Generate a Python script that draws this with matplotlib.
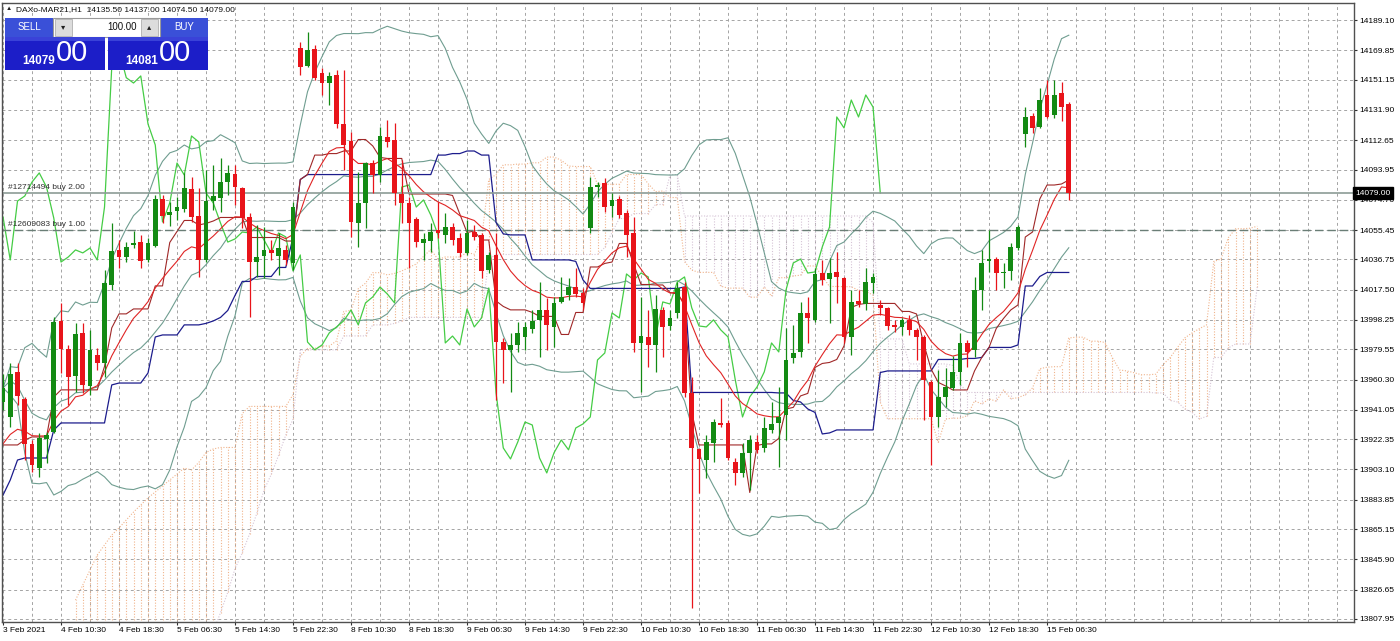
import numpy as np
import pandas as pd
import matplotlib
matplotlib.use("Agg")
import matplotlib.pyplot as plt
from matplotlib.patches import Rectangle

plt.rcParams['font.family'] = ['Liberation Sans', 'DejaVu Sans']

# DAXo-MAR21, H1 candles
open_ = [13946.1, 13936.5, 13965.2, 13948.0, 13919.4, 13904.1, 13922.6, 13927.0, 13997.7, 13979.8,
         13962.6, 13990.0, 13956.2, 13976.0, 13970.9, 14020.5, 14042.8, 14038.3, 14045.9, 14047.8,
         14036.4, 14045.3, 14075.2, 14065.0, 14067.6, 14068.8, 14081.6, 14064.4, 14036.4, 14073.9,
         14075.8, 14086.0, 14091.1, 14082.2, 14063.8, 14035.1, 14038.9, 14042.8, 14038.9, 14042.8,
         14034.5, 14171.3, 14159.8, 14170.7, 14155.4, 14149.0, 14154.1, 14122.9, 14112.1, 14060.0,
         14072.7, 14098.1, 14090.5, 14114.7, 14112.8, 14078.4, 14072.7, 14062.5, 14047.2, 14048.5,
         14055.5, 14052.3, 14057.4, 14050.4, 14040.9, 14054.2, 14052.3, 14030.1, 14039.6, 13984.2,
         13979.2, 13982.3, 13987.4, 13992.5, 13998.3, 14004.6, 13993.8, 14009.7, 14014.1, 14019.2,
         14015.4, 14056.8, 14082.8, 14085.4, 14070.8, 14075.2, 14066.3, 14053.6, 13983.6, 13987.4,
         13982.3, 14004.6, 13994.4, 14002.7, 14019.2, 13951.8, 13916.2, 13909.2, 13920.0, 13932.7,
         13932.7, 13907.9, 13900.9, 13913.7, 13920.6, 13916.8, 13928.3, 13932.7, 13937.8, 13974.1,
         13977.9, 14002.7, 13998.3, 14028.1, 14024.3, 14028.8, 14024.9, 13987.4, 14010.3, 14008.4,
         14021.8, 14007.8, 14005.9, 13995.1, 13993.8, 13998.3, 13991.9, 13987.4, 13958.8, 13936.5,
         13949.3, 13955.0, 13965.2, 13983.6, 13979.2, 14017.3, 14035.8, 14037.0, 14028.1, 14029.4,
         14044.0, 14116.6, 14128.0, 14121.0, 14141.4, 14128.6, 14142.4, 14135.5]
high = [13963.7, 13970.9, 13970.9, 13949.3, 13921.9, 13926.4, 13927.0, 14000.2, 14009.1, 13982.3,
        13996.4, 13996.4, 13991.9, 13980.4, 14030.1, 14060.0, 14049.1, 14047.8, 14054.9, 14052.3,
        14050.4, 14077.8, 14077.8, 14073.3, 14076.5, 14091.8, 14089.2, 14082.2, 14093.7, 14096.8,
        14101.3, 14096.8, 14096.8, 14082.8, 14066.3, 14058.7, 14057.4, 14049.1, 14053.6, 14045.9,
        14073.3, 14175.1, 14181.4, 14173.2, 14158.6, 14156.0, 14157.3, 14157.3, 14117.8, 14092.4,
        14098.7, 14100.0, 14121.0, 14125.5, 14123.6, 14100.0, 14076.5, 14063.8, 14053.6, 14060.0,
        14073.3, 14066.3, 14060.0, 14053.6, 14061.9, 14058.7, 14053.6, 14041.5, 14053.6, 13986.8,
        13990.0, 13997.0, 13997.0, 14004.6, 14022.4, 14012.2, 14012.9, 14025.6, 14024.9, 14031.3,
        14018.6, 14089.2, 14086.0, 14088.6, 14079.0, 14077.1, 14068.2, 14063.8, 14012.9, 14004.6,
        14014.1, 14006.5, 14004.6, 14022.4, 14022.4, 13961.9, 13916.8, 13925.1, 13935.2, 13948.6,
        13934.6, 13910.4, 13920.0, 13925.1, 13925.1, 13936.5, 13946.1, 13955.6, 13993.1, 13995.1,
        14009.7, 14012.9, 14031.3, 14036.4, 14037.7, 14041.5, 14025.6, 14017.3, 14017.3, 14031.3,
        14028.1, 14011.0, 14006.5, 13998.3, 13999.5, 14001.4, 13993.1, 13988.7, 13960.1, 13966.5,
        13967.8, 13975.4, 13990.0, 13985.5, 14025.6, 14042.8, 14055.5, 14038.3, 14034.5, 14047.2,
        14058.7, 14133.7, 14130.0, 14145.8, 14150.9, 14150.9, 14149.6, 14137.0]
low = [13941.0, 13930.2, 13944.2, 13909.2, 13901.5, 13898.4, 13907.3, 13926.4, 13964.6, 13944.2,
       13952.4, 13951.8, 13950.5, 13966.5, 13962.0, 14017.3, 14031.3, 14035.1, 14044.0, 14031.3,
       14035.1, 14044.7, 14059.9, 14058.0, 14061.9, 14066.9, 14060.6, 14025.6, 14035.1, 14068.2,
       14066.9, 14077.8, 14071.4, 14056.8, 14000.1, 14025.6, 14024.9, 14036.4, 14026.8, 14033.2,
       14030.1, 14154.1, 14159.2, 14150.9, 14141.4, 14135.0, 14120.4, 14093.7, 14051.1, 14044.7,
       14056.8, 14079.0, 14086.0, 14108.3, 14071.4, 14059.9, 14031.3, 14044.7, 14036.4, 14041.5,
       14050.4, 14047.2, 14045.9, 14038.3, 14039.6, 14049.1, 14024.9, 14028.1, 13947.4, 13958.1,
       13952.4, 13977.9, 13979.2, 13990.0, 13974.7, 13979.2, 13981.0, 14009.1, 14011.0, 14012.9,
       14004.6, 14053.6, 14076.5, 14066.9, 14063.8, 14063.1, 14038.3, 13977.9, 13952.4, 13968.3,
       13965.2, 13974.7, 13991.9, 13999.5, 13949.3, 13815.0, 13888.1, 13897.7, 13907.9, 13930.2,
       13909.2, 13893.3, 13898.4, 13890.1, 13913.7, 13914.3, 13926.4, 13904.7, 13921.9, 13970.9,
       13974.7, 13983.6, 13997.0, 14020.5, 13996.4, 14009.1, 13983.6, 13976.0, 14006.5, 14004.6,
       14015.4, 14001.4, 13991.9, 13990.6, 13988.7, 13988.7, 13972.8, 13934.6, 13906.0, 13930.2,
       13942.9, 13953.7, 13956.9, 13968.3, 13974.7, 14004.6, 14028.8, 14017.3, 14018.6, 14023.7,
       14042.8, 14108.3, 14117.2, 14120.4, 14126.8, 14126.8, 14124.9, 14074.5]
close = [13955.0, 13964.0, 13949.9, 13919.4, 13906.0, 13923.2, 13925.1, 13997.0, 13979.8, 13962.0,
         13989.4, 13956.9, 13979.2, 13970.9, 14021.8, 14042.1, 14038.3, 14044.7, 14047.2, 14035.8,
         14047.2, 14075.2, 14064.4, 14066.9, 14070.1, 14082.2, 14063.8, 14036.4, 14073.9, 14077.1,
         14086.0, 14091.8, 14082.8, 14063.1, 14035.1, 14038.3, 14042.8, 14040.9, 14044.0, 14036.4,
         14070.1, 14159.2, 14170.0, 14152.4, 14149.0, 14153.5, 14122.9, 14109.6, 14060.6, 14072.7,
         14098.1, 14090.5, 14115.3, 14111.5, 14079.0, 14072.7, 14059.9, 14047.8, 14049.8, 14054.2,
         14053.6, 14057.4, 14049.1, 14040.9, 14053.6, 14051.1, 14029.4, 14039.6, 13984.2, 13979.2,
         13982.3, 13990.0, 13993.8, 13997.7, 14004.6, 13995.1, 14009.1, 14012.9, 14019.2, 14014.8,
         14009.1, 14082.8, 14084.1, 14070.1, 14074.6, 14065.0, 14052.3, 13983.6, 13988.0, 13982.3,
         14005.2, 13993.8, 13999.5, 14018.6, 13951.8, 13916.8, 13909.8, 13920.6, 13933.3, 13931.4,
         13910.4, 13900.9, 13913.7, 13921.9, 13915.6, 13929.5, 13932.1, 13936.5, 13972.8, 13977.2,
         14002.7, 13999.5, 14027.5, 14023.7, 14028.1, 14025.6, 13987.4, 14009.7, 14008.4, 14022.4,
         14025.6, 14005.9, 13994.4, 13993.8, 13998.3, 13991.9, 13987.4, 13960.1, 13936.5, 13949.3,
         13955.6, 13965.2, 13983.6, 13977.9, 14017.3, 14034.5, 14037.0, 14028.1, 14028.8, 14044.7,
         14057.4, 14127.4, 14120.4, 14138.2, 14127.4, 14141.4, 14133.7, 14079.0]

tenkan_head = [13918.7, 13918.7, 13918.7, 13921.9, 13923.8, 13923.8, 13923.8, 13949.2]
kijun_head = [13886.8, 13896.4, 13909.1, 13910.4, 13910.4, 13910.4, 13910.4, 13928.2, 13932.7,
              13932.7, 13932.7, 13932.7, 13932.7, 13932.7, 13932.7, 13956.9, 13958.1, 13958.1,
              13958.1, 13958.1, 13964.5, 13987.4, 13988.7, 13988.7, 13988.7]
cloud_head_start = 10
span_a_head = [13820.0, 13829.6, 13839.2, 13848.7, 13855.0, 13861.4, 13865.9, 13871.0, 13876.0,
               13880.5, 13885.0, 13888.8, 13892.6, 13896.4, 13900.2, 13904.0]
span_b_head = [13800.0] * 20 + [13812.0, 13825.0, 13840.0, 13850.0, 13862.0, 13875.0, 13890.0,
                                13900.0, 13912.0, 13925.0, 13935.0]
ma_seed = 13914.0

price_ticks = [14189.10, 14169.85, 14151.15, 14131.90, 14112.65, 14093.95, 14074.70, 14055.45,
               14036.75, 14017.50, 13998.25, 13979.55, 13960.30, 13941.05, 13922.35, 13903.10,
               13883.85, 13865.15, 13845.90, 13826.65, 13807.95]
time_labels = ["3 Feb 2021", "4 Feb 10:30", "4 Feb 18:30", "5 Feb 06:30", "5 Feb 14:30",
               "5 Feb 22:30", "8 Feb 10:30", "8 Feb 18:30", "9 Feb 06:30", "9 Feb 14:30",
               "9 Feb 22:30", "10 Feb 10:30", "10 Feb 18:30", "11 Feb 06:30", "11 Feb 14:30",
               "11 Feb 22:30", "12 Feb 10:30", "12 Feb 18:30", "15 Feb 06:30"]
order_lines = [("#12714494 buy 2.00", 14079.0), ("#12609083 buy 1.00", 14055.45)]
bid, ask = 14079.00, 14081.00

W, H = 1400, 641
fig = plt.figure(figsize=(W / 100, H / 100), dpi=100)
ax = fig.add_axes([2 / W, 1 - 622 / H, 1352 / W, 619 / H])

o = np.array(open_); h = np.array(high); l = np.array(low); c = np.array(close)
n = len(c)
idx = np.arange(n)
hs, ls, cs = pd.Series(h), pd.Series(l), pd.Series(c)

# ichimoku 9/26/52
tenkan = ((hs.rolling(9, min_periods=1).max() + ls.rolling(9, min_periods=1).min()) / 2).values
kijun = ((hs.rolling(26, min_periods=1).max() + ls.rolling(26, min_periods=1).min()) / 2).values
tenkan[:len(tenkan_head)] = tenkan_head
kijun[:len(kijun_head)] = kijun_head
span_b = ((hs.rolling(52, min_periods=1).max() + ls.rolling(52, min_periods=1).min()) / 2).values
nh = len(span_a_head)
span_b[:len(span_b_head) - nh] = span_b_head[nh:]
cloud_x = np.concatenate([np.arange(cloud_head_start, cloud_head_start + nh), idx + 26])
cloud_a = np.concatenate([span_a_head, (tenkan + kijun) / 2])
cloud_b = np.concatenate([span_b_head[:nh], span_b])

# bollinger 20/2 and a 14 ema
bb_mid = cs.rolling(20, min_periods=1).mean().values
bb_sd = cs.rolling(20, min_periods=2).std(ddof=0).fillna(0).values
alpha = 2 / 15
ma_red = np.empty(n)
prev = ma_seed
for i in range(n):
    prev = alpha * c[i] + (1 - alpha) * prev
    ma_red[i] = prev

# axes / grid
ax.set_xlim(-0.14, 186.34)
ax.set_ylim(13806.04, 14199.92)
ax.set_xticks(range(0, 145, 8), labels=time_labels, ha='left')
ax.set_xticks(range(0, 187, 4), minor=True)
ax.set_yticks(price_ticks, labels=[f"{v:.2f}" for v in price_ticks])
ax.yaxis.tick_right()
ax.grid(True, which='both', color='#a4a4a4', linestyle=(0, (3, 3)), linewidth=0.7)
ax.set_axisbelow(True)
ax.tick_params(axis='both', which='major', labelsize=6, length=2.5, width=0.8, color='#303030', pad=1)
ax.tick_params(axis='x', which='minor', length=0)
ax.tick_params(axis='y', pad=1.5)
for s in ax.spines.values():
    s.set_color('#505050')
    s.set_linewidth(1)

# cloud as dotted hatching
lo = np.minimum(cloud_a, cloud_b); hi = np.maximum(cloud_a, cloud_b)
cols = np.where(cloud_a >= cloud_b, '#f0b48c', '#d6c4d6')
ax.vlines(cloud_x, lo, hi, colors=cols, linestyles=(0, (1, 1.5)), linewidth=0.8, zorder=1)
ax.plot(cloud_x, cloud_a, color='#f0b48c', linestyle=(0, (1, 1.5)), linewidth=0.8, zorder=1)
ax.plot(cloud_x, cloud_b, color='#d6c4d6', linestyle=(0, (1, 1.5)), linewidth=0.8, zorder=1)

# bands and lines
band_col = '#6f9d90'
ax.plot(idx, bb_mid, color=band_col, lw=0.8, zorder=2)
ax.plot(idx, bb_mid + 2 * bb_sd, color=band_col, lw=0.8, zorder=2)
ax.plot(idx, bb_mid - 2 * bb_sd, color=band_col, lw=0.8, zorder=2)
ax.plot(idx[:n - 26], c[26:], color='#45cc45', lw=0.9, zorder=2)
ax.plot(idx, kijun, color='#1c1c8c', lw=0.9, zorder=2)
ax.plot(idx, tenkan, color='#a02828', lw=0.8, zorder=2)
ax.plot(idx, ma_red, color='#e02424', lw=0.8, zorder=2)

# order lines
ax.axhline(order_lines[0][1], color='#8c9c96', lw=1.2, zorder=2)
ax.axhline(order_lines[1][1], color='#6a7e76', lw=1.0, linestyle=(0, (6, 3)), zorder=2)
for txt, val in order_lines:
    ax.text(4.5 / 7.25, val + 1.4, txt, fontsize=6, color='#303030', va='bottom', ha='left')

# candles
up = c >= o
body_lo = np.minimum(o, c)
body_h = np.maximum(np.abs(c - o), 0.6)
colors = np.where(up, '#138a13', '#e8141a')
ax.vlines(idx, l, h, colors=colors, linewidth=0.9, zorder=3)
ax.bar(idx, body_h, bottom=body_lo, width=0.68, color=colors, linewidth=0, zorder=4)

# bid tag on the price scale
ax.text(1.001, bid, f"{bid:.2f}", transform=ax.get_yaxis_transform(), fontsize=6, color='white',
        va='center', ha='left', bbox=dict(boxstyle='square,pad=0.25', fc='black', ec='black'),
        zorder=6, clip_on=False)

# header + one-click trading panel (pixel overlay)
ov = fig.add_axes([0, 0, 1, 1], facecolor='none')
ov.set_xlim(0, W); ov.set_ylim(H, 0); ov.axis('off')
ov.text(9, 9, "\u25B2", fontsize=4.5, va='center', ha='center', color='#202020')
ov.text(16, 9.5, "DAXo-MAR21,H1  14135.50 14137.00 14074.50 14079.00", fontsize=6,
        va='center', ha='left', color='#101010')
ov.add_patch(Rectangle((5, 18), 48, 19, fc='#3a50d8', ec='none'))
ov.add_patch(Rectangle((160, 18), 48, 19, fc='#3a50d8', ec='none'))
ov.add_patch(Rectangle((53, 18), 107, 19, fc='white', ec='#9a9a9a', lw=0.8))
ov.add_patch(Rectangle((55, 19), 17, 17, fc='#dcdcdc', ec='#b0b0b0', lw=0.6))
ov.add_patch(Rectangle((141, 19), 17, 17, fc='#dcdcdc', ec='#b0b0b0', lw=0.6))
ov.text(63.5, 27.5, "\u25BE", fontsize=6, ha='center', va='center', color='#202020')
ov.text(149.5, 27.5, "\u25B4", fontsize=6, ha='center', va='center', color='#202020')
ov.text(137, 27.5, "100.00", fontsize=7, ha='right', va='center', color='#101010')
ov.text(29, 27.5, "SELL", fontsize=7, ha='center', va='center', color='white')
ov.text(184, 27.5, "BUY", fontsize=7, ha='center', va='center', color='white')
for x0, price in [(5, bid), (108, ask)]:
    ov.add_patch(Rectangle((x0, 37), 100, 33, fc='#1c1ec8', ec='none'))
    ov.add_patch(Rectangle((x0, 37), 100, 4, fc='#3a42d8', ec='none'))
    big, small = f"{price:.2f}".split(".")
    ov.text(x0 + 50, 61, big, fontsize=8.5, fontweight='bold', ha='right', va='center', color='white')
    ov.text(x0 + 51, 53, small, fontsize=21, ha='left', va='center', color='white')

fig.savefig("out.png", dpi=100)
